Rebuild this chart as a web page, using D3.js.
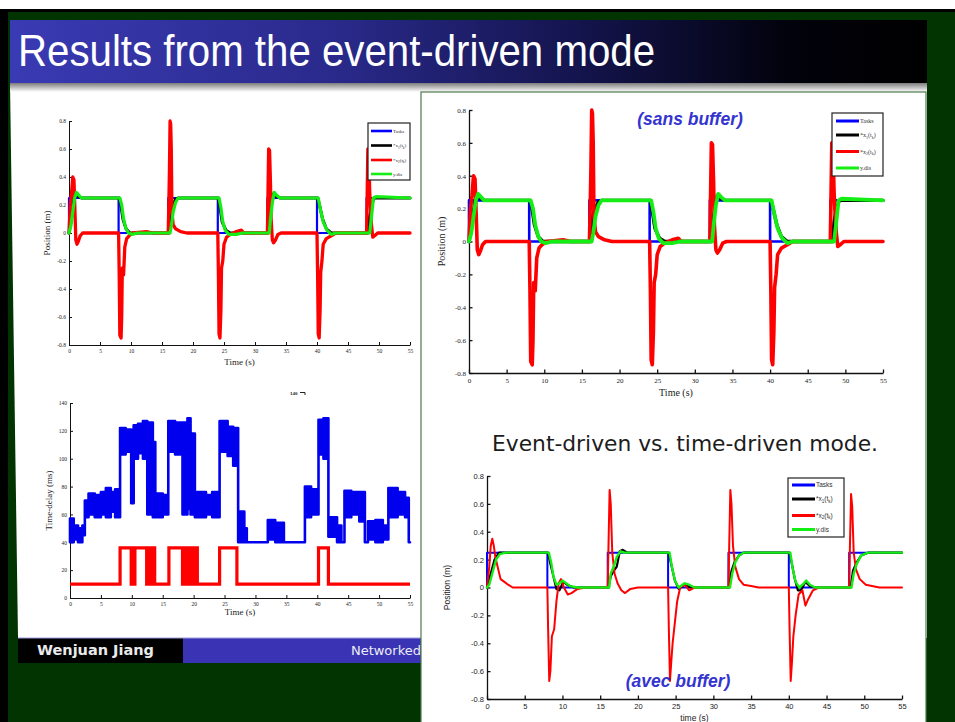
<!DOCTYPE html>
<html>
<head>
<meta charset="utf-8">
<script src="https://cdn.jsdelivr.net/npm/d3@7"></script>
<style>
  body { margin: 0; background: #fff; }
  svg { display: block; }
</style>
</head>
<body>
<svg id="slide" width="955" height="722"></svg>
<script>
// ---------- tick labels ----------
const timeTicks  = [0, 5, 10, 15, 20, 25, 30, 35, 40, 45, 50, 55];
const posTicks   = [-0.8, -0.6, -0.4, -0.2, 0, 0.2, 0.4, 0.6, 0.8];
const delayTicks = [0, 20, 40, 60, 80, 100, 120, 140];

// ---------- legend ----------
const legendNames  = ["Tasks", "*x1(tk)", "*x2(tk)", "y.dis"];
const seriesColors = ["#0000ff", "#000000", "#ff0000", "#14ee14"];

// ---------- task reference (shared by both runs) ----------
const tasks = [[0,0],[0,0.25],[8,0.25],[8,0],[16,0],[16,0.25],[24,0.25],[24,0],
  [32,0],[32,0.25],[40,0.25],[40,0],[48,0],[48,0.25],[55,0.25]];

// ---------- run without buffer ----------
const x1Sans = [[0,0],[0.4,0.1],[0.8,0.25],[1.1,0.28],[1.6,0.26],[2,0.25],[8.1,0.25],[8.3,0.22],
  [8.7,0.1],[9.2,0.03],[9.8,0],[10.5,0],[16.2,0],[16.4,0.15],[16.7,0.2],[17.2,0.24],[17.6,0.25],
  [24.1,0.25],[24.3,0.2],[24.7,0.08],[25.3,0.02],[26,0],[32.2,0],[32.4,0.12],[32.7,0.22],[33,0.28],
  [33.5,0.26],[34,0.25],[40.1,0.25],[40.4,0.2],[40.9,0.1],[41.5,0.03],[42.3,0],[48.3,0],[48.5,0.12],
  [48.8,0.2],[49.2,0.25],[55,0.25]];
const x2Sans = [[0,0],[0.2,0.2],[0.4,0.28],[0.6,0.4],[0.8,0.38],[1.0,0.1],[1.1,-0.05],[1.3,-0.08],
  [1.5,-0.06],[1.8,-0.02],[2.2,0],[8.0,0],[8.1,-0.3],[8.2,-0.73],[8.4,-0.75],[8.5,-0.6],[8.6,-0.25],
  [8.8,-0.3],[9.0,-0.1],[9.3,-0.04],[9.7,-0.02],[10.3,0],[12.5,0.01],[13.5,0],[16,0],[16.1,0.2],
  [16.2,0.45],[16.3,0.8],[16.4,0.78],[16.5,0.6],[16.6,0.15],[16.8,0.06],[17.2,0.03],[18,0.01],[19,0],
  [24,0],[24.1,-0.3],[24.2,-0.72],[24.35,-0.75],[24.5,-0.55],[24.6,-0.25],[24.8,-0.2],[25,-0.08],
  [25.4,-0.03],[26,-0.01],[27,0.01],[27.8,0.02],[28.2,0],[32,0],[32.1,0.3],[32.2,0.6],[32.35,0.59],
  [32.5,0.35],[32.6,0.1],[32.8,-0.05],[33,-0.07],[33.3,-0.05],[33.7,-0.01],[34.2,0],[40,0],[40.1,-0.3],
  [40.2,-0.72],[40.35,-0.75],[40.5,-0.55],[40.6,-0.28],[40.8,-0.2],[41,-0.08],[41.5,-0.04],[42.3,-0.02],
  [43,0],[48,0],[48.1,0.3],[48.2,0.6],[48.35,0.58],[48.5,0.3],[48.6,0.2],[48.8,0.05],[49,-0.03],
  [49.3,-0.02],[49.8,0],[55,0]];
const yDisSans = [[0,0],[0.3,0.05],[0.6,0.15],[0.9,0.25],[1.2,0.29],[1.6,0.27],[2,0.25],[8.2,0.25],
  [8.5,0.2],[8.8,0.1],[9.2,0.03],[9.6,0],[10.2,-0.01],[11,0],[16.3,0],[16.5,0.05],[16.8,0.15],
  [17.2,0.22],[17.6,0.25],[24.2,0.25],[24.5,0.18],[24.8,0.08],[25.2,0.02],[25.8,-0.01],[27,-0.01],
  [28,0],[32.3,0],[32.5,0.1],[32.8,0.22],[33.1,0.29],[33.5,0.27],[34,0.25],[40.2,0.25],[40.5,0.18],
  [41,0.08],[41.6,0.02],[42.3,-0.01],[43,0],[48.5,0],[48.8,0.12],[49.1,0.25],[49.5,0.26],[55,0.25]];

// ---------- run with buffer ----------
const x1Avec = [[0,0],[0.5,0.1],[1,0.2],[1.6,0.25],[8.1,0.25],[8.4,0.17],[8.8,0.08],[9.2,-0.01],
  [9.6,-0.02],[10.1,0.04],[10.6,0.02],[11.5,0],[16.1,0],[16.4,0.08],[16.8,0.12],[17.2,0.15],
  [17.6,0.26],[18,0.27],[18.6,0.25],[24.1,0.25],[24.4,0.17],[24.9,0.05],[25.4,-0.01],[26.2,0.02],
  [27,0],[32.1,0],[32.4,0.12],[32.8,0.18],[33.4,0.23],[34,0.25],[40.1,0.25],[40.4,0.17],[40.8,0.06],
  [41.2,-0.02],[41.6,-0.02],[42.2,0.04],[42.8,0.01],[43.5,0],[48.2,0],[48.5,0.12],[49,0.18],
  [49.6,0.23],[50.5,0.25],[55,0.25]];
const x2Avec = [[0,0],[0.3,0.15],[0.5,0.3],[0.7,0.35],[0.9,0.3],[1.1,0.22],[1.4,0.15],[1.8,0.06],
  [2.3,0.04],[2.8,0.02],[3.4,0],[8,0],[8.1,-0.3],[8.25,-0.67],[8.4,-0.6],[8.6,-0.35],[8.9,-0.3],
  [9.2,-0.1],[9.5,0.03],[9.8,0.06],[10.2,0],[10.7,-0.05],[11.2,-0.04],[12,-0.01],[13,0],[16,0],
  [16.1,0.3],[16.25,0.7],[16.4,0.6],[16.6,0.25],[16.9,0.1],[17.3,0.03],[17.8,-0.02],[18.3,-0.04],
  [19,-0.01],[20,0],[24,0],[24.1,-0.3],[24.25,-0.67],[24.4,-0.55],[24.6,-0.4],[24.9,-0.25],
  [25.2,-0.1],[25.6,0],[26.2,0.02],[26.8,-0.02],[27.5,0],[32,0],[32.1,0.3],[32.25,0.7],[32.4,0.6],
  [32.6,0.3],[32.9,0.15],[33.4,0.06],[34,0.02],[35,0.01],[36,0],[40,0],[40.1,-0.3],[40.25,-0.67],
  [40.4,-0.55],[40.6,-0.35],[40.9,-0.2],[41.3,-0.05],[41.8,-0.02],[42.2,-0.13],[42.6,-0.08],
  [43.2,-0.02],[44,0],[48,0],[48.1,0.3],[48.25,0.67],[48.4,0.58],[48.6,0.25],[48.9,0.13],
  [49.4,0.06],[50.2,0.02],[52,0],[55,0]];
const yDisAvec = [[0,0],[0.3,0.02],[0.8,0.12],[1.2,0.2],[1.7,0.24],[2.5,0.25],[8.2,0.25],[8.5,0.18],
  [8.8,0.08],[9.2,0.02],[9.6,0.03],[10,0.05],[10.5,0.03],[11,0.01],[12,0],[16.2,0],[16.4,0.1],
  [16.8,0.15],[17.2,0.22],[17.7,0.26],[18.2,0.25],[24.2,0.25],[24.5,0.15],[24.9,0.05],[25.4,0],
  [26.2,0.03],[26.8,0.02],[27.5,0],[32.2,0],[32.5,0.1],[32.9,0.18],[33.4,0.23],[34,0.25],[40.2,0.25],
  [40.5,0.14],[40.9,0.04],[41.4,0],[42,0.03],[42.3,0.05],[42.8,0.02],[43.5,0],[48.3,0],[48.6,0.1],
  [49,0.17],[49.6,0.23],[50.5,0.25],[55,0.25]];

// ---------- network time delay (ms) ----------
// measured delay band: [time, low, high]
const delayBand = [[0,40,57],[0.6,42,52],[1.3,40,50],[2.0,45,52],[2.4,58,70],[3.0,60,75],[4.0,58,74],
  [5.0,60,76],[5.8,58,79],[6.6,62,76],[7.3,58,78],[8.1,103,122],[9.0,105,121],[9.9,68,118],
  [10.3,100,124],[11.0,104,125],[11.8,100,127],[12.5,60,126],[13.4,58,112],[13.8,58,75],[15.0,60,74],
  [15.9,105,127],[17.0,103,126],[18.2,60,126],[19.0,64,129],[19.5,60,118],[20.2,58,76],[22.0,60,74],
  [23.0,58,76],[24.2,105,127],[25.5,102,123],[26.4,95,122],[27.2,40,62],[28.2,40,50],[28.6,40,40],
  [32.0,42,56],[33.2,40,54],[34.6,40,40],[38.0,58,80],[39.0,60,78],[40.2,103,128],[41.0,100,129],
  [41.8,44,58],[43.2,40,52],[43.9,40,40],[44.4,58,77],[45.5,60,76],[46.8,55,76],[47.7,40,40],
  [48.2,42,55],[49.4,40,56],[50.6,42,52],[51.5,58,79],[53.0,60,76],[54.2,58,72],[54.8,40,40],[55,40,40]];
// compensated delay: [time, value], held until the next point
const delayStep = [[0,10],[8.1,36],[9.9,10],[10.1,36],[10.3,10],[10.5,36],[12.4,10],[12.6,36],
  [12.8,10],[13.0,36],[13.2,10],[13.4,36],[13.7,10],[16.0,36],[18.2,10],[18.4,36],[18.6,10],
  [18.8,36],[19.0,10],[19.4,36],[19.6,10],[19.8,36],[20.0,10],[20.2,36],[20.6,10],[24.2,36],
  [27.0,10],[40.2,36],[41.8,10],[55,10]];

const svg = d3.select("#slide");
const defs = svg.append("defs");

// ---------- slide frame ----------
svg.append("rect").attr("width", 955).attr("height", 722).attr("fill", "#fff");
svg.append("rect").attr("x", 0).attr("y", 9).attr("width", 955).attr("height", 713).attr("fill", "#000");
svg.append("rect").attr("x", 8).attr("y", 12).attr("width", 947).attr("height", 710).attr("fill", "#013400");

const tg = defs.append("linearGradient").attr("id", "titleGrad").attr("x1", 0).attr("x2", 1).attr("y1", 0).attr("y2", 0);
[["0%", "#3a3ab4"], ["35%", "#2a2a8c"], ["62%", "#14144e"], ["85%", "#02020c"], ["100%", "#000"]]
  .forEach(([o, c]) => tg.append("stop").attr("offset", o).attr("stop-color", c));
const sg = defs.append("linearGradient").attr("id", "shadowGrad").attr("x1", 0).attr("x2", 0).attr("y1", 0).attr("y2", 1);
[["0%", "#7c7c7c"], ["100%", "#ffffff"]].forEach(([o, c]) => sg.append("stop").attr("offset", o).attr("stop-color", c));

svg.append("path").attr("d", "M10,83 L927,83 L927,638 L18,638 Z").attr("fill", "#fff");
svg.append("rect").attr("x", 10).attr("y", 20).attr("width", 917).attr("height", 63).attr("fill", "url(#titleGrad)");
svg.append("rect").attr("x", 10).attr("y", 83).attr("width", 917).attr("height", 9).attr("fill", "url(#shadowGrad)");
svg.append("text").attr("x", 18).attr("y", 66)
  .attr("font-family", "'Liberation Sans Narrow', 'Liberation Sans', sans-serif").attr("font-size", 44)
  .attr("textLength", 637).attr("lengthAdjust", "spacingAndGlyphs")
  .attr("fill", "#fff").text("Results from the event-driven mode");

// footer
svg.append("rect").attr("x", 18).attr("y", 638).attr("width", 165).attr("height", 25).attr("fill", "#000");
svg.append("rect").attr("x", 183).attr("y", 638).attr("width", 240).attr("height", 25).attr("fill", "#3a34b4");
svg.append("line").attr("x1", 18).attr("x2", 423).attr("y1", 638).attr("y2", 638).attr("stroke", "#9a9ae0").attr("stroke-width", 1);
svg.append("text").attr("x", 37).attr("y", 655).attr("font-family", "'DejaVu Sans', sans-serif")
  .attr("font-size", 14.5).attr("font-weight", "bold").attr("fill", "#eaeaea").text("Wenjuan Jiang");
svg.append("text").attr("x", 421).attr("y", 655).attr("text-anchor", "end").attr("font-family", "'DejaVu Sans', sans-serif")
  .attr("font-size", 13).attr("fill", "#ececf4").text("Networked");

// ---------- helpers ----------
function drawAxes(g, x, y, o) {
  const ax = g.append("g").attr("transform", `translate(0,${o.yr[0]})`)
    .call(d3.axisBottom(x).tickValues(timeTicks).tickSizeInner(-o.tick).tickSizeOuter(0).tickPadding(o.padX));
  const ay = g.append("g").attr("transform", `translate(${o.xr[0]},0)`)
    .call(d3.axisLeft(y).tickValues(o.yTicks).tickSizeInner(-o.tick).tickSizeOuter(0).tickPadding(o.padY)
      .tickFormat(o.fmt));
  [ax, ay].forEach(a => {
    a.select(".domain").attr("stroke", "#111").attr("stroke-width", o.axisW);
    a.selectAll(".tick line").attr("stroke", "#111").attr("stroke-width", o.axisW);
    a.selectAll(".tick text").attr("font-family", o.font).attr("font-size", o.tickFs).attr("fill", "#222");
  });
  g.append("text").attr("x", (o.xr[0] + o.xr[1]) / 2).attr("y", o.xLabY).attr("text-anchor", "middle")
    .attr("font-family", o.font).attr("font-size", o.labFs).attr("fill", "#222").text(o.xLab);
  g.append("text").attr("transform", `translate(${o.yLabX},${(o.yr[0] + o.yr[1]) / 2}) rotate(-90)`)
    .attr("text-anchor", "middle").attr("font-family", o.font).attr("font-size", o.labFs)
    .attr("fill", "#222").text(o.yLab);
}

function legendLabel(t, name, fs) {
  const m = name.match(/^\*x(\d)\(t(k)\)$/);
  if (!m) { t.text(name); return; }
  t.append("tspan").text("*x");
  t.append("tspan").attr("font-size", fs * 0.7).attr("dy", fs * 0.25).text(m[1]);
  t.append("tspan").attr("dy", -fs * 0.25).text("(t");
  t.append("tspan").attr("font-size", fs * 0.7).attr("dy", fs * 0.25).text(m[2]);
  t.append("tspan").attr("dy", -fs * 0.25).text(")");
}

function drawLegend(g, L) {
  g.append("rect").attr("x", L.x).attr("y", L.y).attr("width", L.w).attr("height", L.h)
    .attr("fill", "#fff").attr("stroke", "#222").attr("stroke-width", 1.2);
  legendNames.forEach((name, i) => {
    const yy = L.rows[i];
    g.append("line").attr("x1", L.l0).attr("x2", L.l1).attr("y1", yy).attr("y2", yy)
      .attr("stroke", seriesColors[i]).attr("stroke-width", L.lw);
    const t = g.append("text").attr("x", L.l1 + 1).attr("y", yy + L.fs * 0.35)
      .attr("font-family", L.font).attr("font-size", L.fs).attr("fill", "#333");
    legendLabel(t, name, L.fs);
  });
}

function positionChart(o) {
  const g = svg.append("g");
  const x = d3.scaleLinear().domain([0, 55]).range(o.xr);
  const y = d3.scaleLinear().domain([-0.8, 0.8]).range(o.yr);
  drawAxes(g, x, y, Object.assign({ yTicks: posTicks, fmt: d => d3.format("")(d).replace("−", "-") }, o));
  const line = d3.line().x(d => x(d[0])).y(d => y(d[1]));
  o.series.forEach((s, i) => {
    g.append("path").attr("d", line(s)).attr("fill", "none").attr("stroke", seriesColors[i])
      .attr("stroke-width", o.lw[i]).attr("stroke-linejoin", "round").attr("stroke-linecap", "round");
  });
  drawLegend(g, o.legend);
  return g;
}

// ---------- left slide: position, no buffer ----------
positionChart({
  xr: [69, 410], yr: [345, 121], tick: 3, padX: 4, padY: 3, axisW: 1,
  font: "'Liberation Serif', serif", tickFs: 5.5, labFs: 9,
  xLab: "Time (s)", xLabY: 365, yLab: "Position (m)", yLabX: 50,
  series: [tasks, x1Sans, x2Sans, yDisSans], lw: [2.2, 3, 3.3, 3.2],
  legend: { x: 368, y: 123, w: 42, h: 57, rows: [131, 145.5, 160, 174], l0: 371, l1: 392, lw: 2.6,
    fs: 5, font: "'Liberation Serif', serif" }
});

// ---------- left slide: time delay ----------
(function () {
  const g = svg.append("g");
  const o = { xr: [70, 410], yr: [598, 403], tick: 3, padX: 4, padY: 3, axisW: 1,
    font: "'Liberation Serif', serif", tickFs: 5.5, labFs: 9,
    xLab: "Time (s)", xLabY: 615, yLab: "Time-delay (ms)", yLabX: 52, yTicks: delayTicks, fmt: d => d };
  const x = d3.scaleLinear().domain([0, 55]).range(o.xr);
  const y = d3.scaleLinear().domain([0, 140]).range(o.yr);
  drawAxes(g, x, y, o);
  const band = d3.area().curve(d3.curveStepAfter).x(d => x(d[0])).y0(d => y(d[1])).y1(d => y(d[2]));
  g.append("path").attr("d", band(delayBand)).attr("fill", "#0000ee").attr("stroke", "#0000ee")
    .attr("stroke-width", 2.6).attr("stroke-linejoin", "round");
  const step = d3.line().curve(d3.curveStepAfter).x(d => x(d[0])).y(d => y(d[1]));
  g.append("path").attr("d", step(delayStep)).attr("fill", "none").attr("stroke", "#ff0000")
    .attr("stroke-width", 3.2);
  // stray label from the neighbouring figure
  g.append("text").attr("x", 290).attr("y", 395).attr("font-family", "'Liberation Serif', serif")
    .attr("font-size", 5).attr("font-weight", "bold").attr("fill", "#222").text("140");
  g.append("path").attr("d", "M300,392.5 H305 V395").attr("fill", "none").attr("stroke", "#222").attr("stroke-width", 1);
})();

// ---------- right panel ----------
svg.append("rect").attr("x", 421).attr("y", 92).attr("width", 505).attr("height", 632)
  .attr("fill", "#fff").attr("stroke", "#4d7a4d").attr("stroke-width", 1.2);

positionChart({
  xr: [469, 883], yr: [373, 110], tick: 3.5, padX: 5, padY: 3, axisW: 1.3,
  font: "'Liberation Serif', serif", tickFs: 7, labFs: 10,
  xLab: "Time (s)", xLabY: 396, yLab: "Position (m)", yLabX: 445,
  series: [tasks, x1Sans, x2Sans, yDisSans], lw: [2.6, 3.4, 3.6, 3.8],
  legend: { x: 832, y: 113, w: 51, h: 63, rows: [121, 135, 151.5, 168], l0: 836, l1: 859, lw: 3,
    fs: 6, font: "'Liberation Serif', serif" }
});
svg.append("text").attr("x", 690).attr("y", 125).attr("text-anchor", "middle")
  .attr("font-family", "'Liberation Sans', Arial, sans-serif").attr("font-size", 17.5)
  .attr("font-weight", "bold").attr("font-style", "italic").attr("fill", "#3434d0").text("(sans buffer)");

svg.append("text").attr("x", 685).attr("y", 451).attr("text-anchor", "middle")
  .attr("font-family", "'DejaVu Sans', sans-serif").attr("font-size", 21)
  .attr("textLength", 386).attr("lengthAdjust", "spacingAndGlyphs")
  .attr("fill", "#1c1c1c").text("Event-driven vs. time-driven mode.");

positionChart({
  xr: [487, 902], yr: [699, 476], tick: 3.5, padX: 5, padY: 3, axisW: 1.3,
  font: "'Liberation Sans', sans-serif", tickFs: 7.5, labFs: 8.5,
  xLab: "time (s)", xLabY: 721, yLab: "Position (m)", yLabX: 450,
  series: [tasks, x1Avec, x2Avec, yDisAvec], lw: [2, 2.2, 2, 2.4],
  legend: { x: 788, y: 478, w: 56, h: 59, rows: [485, 499, 515.5, 529.5], l0: 792, l1: 815, lw: 3,
    fs: 6.5, font: "'Liberation Sans', sans-serif" }
});
svg.append("text").attr("x", 678).attr("y", 687).attr("text-anchor", "middle")
  .attr("font-family", "'Liberation Sans', Arial, sans-serif").attr("font-size", 17.5)
  .attr("font-weight", "bold").attr("font-style", "italic").attr("fill", "#3434d0").text("(avec buffer)");
</script>
</body>
</html>
